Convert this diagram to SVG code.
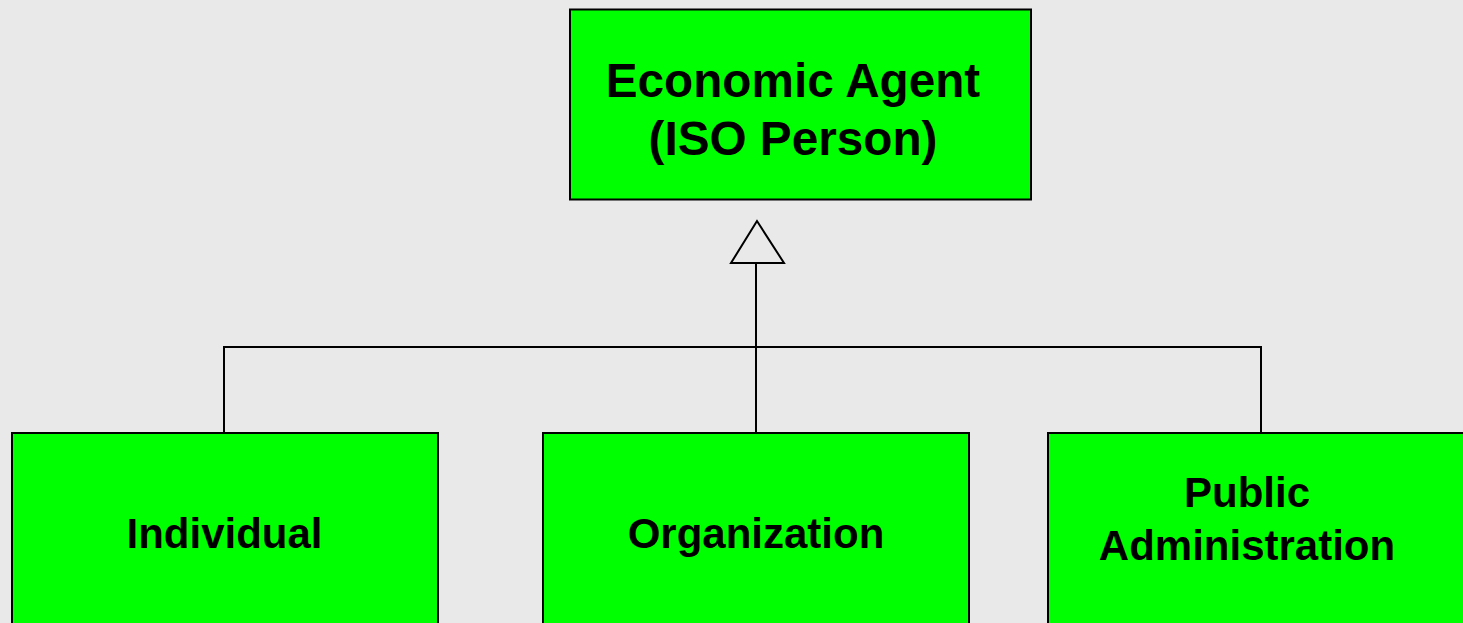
<svg xmlns="http://www.w3.org/2000/svg" width="1463" height="623" viewBox="0 0 1463 623">
<style>
.box{fill:#00ff00;stroke:#000;stroke-width:2}
.lbl{font-family:"Liberation Sans",Arial,sans-serif;font-weight:bold;fill:#000;text-anchor:middle}
.conn{fill:none;stroke:#000;stroke-width:2}
</style>
<rect x="0" y="0" width="1463" height="623" fill="#e9e9e9"/>
<g id="connectors">
<polyline class="conn" points="224,432 224,347 1261,347 1261,432"/>
<line class="conn" x1="756" y1="432" x2="756" y2="263"/>
<polygon points="757,221 731,263 784,263" fill="#e9e9e9" stroke="#000" stroke-width="2" stroke-linejoin="miter"/>
</g>
<g id="economic-agent">
<rect class="box" x="570" y="9.5" width="461" height="190"/>
<text class="lbl" font-size="47.7" x="793" y="97">Economic Agent</text>
<text class="lbl" font-size="47.7" x="793" y="155">(ISO Person)</text>
</g>
<g id="individual">
<rect class="box" x="12" y="433" width="426" height="220"/>
<text class="lbl" font-size="42" x="224.5" y="548">Individual</text>
</g>
<g id="organization">
<rect class="box" x="543" y="433" width="426" height="220"/>
<text class="lbl" font-size="42" x="756" y="548">Organization</text>
</g>
<g id="public-administration">
<rect class="box" x="1048" y="433" width="426" height="220"/>
<text class="lbl" font-size="42" x="1247" y="507">Public</text>
<text class="lbl" font-size="42" x="1247" y="560">Administration</text>
</g>
</svg>
